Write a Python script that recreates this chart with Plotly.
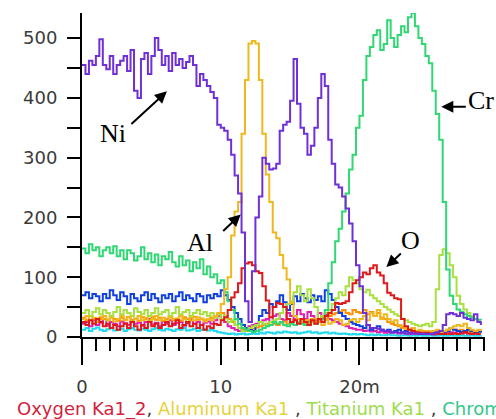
import plotly.graph_objects as go

STEP = 0.25  # sampling step along the scan (m)

ni = [455, 440, 462, 455, 470, 498, 455, 448, 470, 440, 455, 462, 470, 445, 480, 412,
      400, 465, 475, 440, 470, 500, 480, 455, 470, 445, 475, 455, 465, 450, 460, 470,
      455, 420, 440, 430, 420, 410, 400, 355, 350, 345, 330, 305, 270, 240, 175, 60,
      25, 110, 200, 235, 300, 290, 280, 282, 290, 345, 355, 360, 395, 465, 390, 350,
      340, 305, 320, 350, 400, 440, 420, 330, 290, 255, 250, 235, 215, 190, 160, 120,
      85, 40, 20, 15, 15, 14, 12, 10, 10, 8, 8, 7, 8, 6, 7, 6,
      6, 5, 6, 5, 5, 6, 8, 10, 20, 38, 40, 38, 35, 40, 32, 30,
      28, 38, 25, 20]

cr = [148, 140, 155, 145, 150, 135, 145, 150, 140, 152, 135, 145, 130, 145, 140, 128,
      135, 150, 130, 140, 125, 138, 120, 135, 130, 142, 125, 118, 135, 120, 128, 110,
      125, 115, 130, 105, 118, 100, 105, 90, 95, 75, 60, 45, 30, 22, 15, 12,
      10, 8, 10, 12, 15, 18, 20, 25, 22, 25, 20, 18, 22, 20, 25, 22,
      20, 25, 28, 22, 25, 30, 45, 90, 125, 160, 181, 210, 240, 280, 305, 350,
      370, 430, 470, 485, 505, 513, 480, 490, 530, 500, 485, 505, 520, 510, 535, 542,
      520, 500, 490, 470, 458, 412, 373, 330, 226, 113, 69, 55, 46, 42, 38, 35,
      32, 30, 29, 28]

al = [30, 35, 28, 32, 25, 30, 35, 28, 32, 26, 30, 35, 28, 33, 25, 30,
      35, 28, 32, 26, 30, 35, 28, 32, 26, 33, 30, 28, 35, 30, 25, 32,
      28, 33, 30, 26, 30, 28, 35, 40, 55, 80, 100, 170, 210, 226, 340, 430,
      491, 495, 491, 430, 340, 272, 226, 175, 165, 137, 115, 96, 57, 35, 30, 25,
      28, 22, 25, 30, 25, 20, 28, 22, 25, 30, 28, 20, 22, 28, 30, 25,
      30, 35, 28, 40, 35, 45, 30, 38, 30, 25, 28, 20, 18, 15, 12, 15,
      10, 12, 8, 10, 8, 10, 12, 8, 10, 12, 15, 18, 20, 18, 22, 15,
      12, 10, 12, 10]

oxy = [25, 20, 28, 22, 30, 25, 18, 22, 15, 20, 12, 18, 22, 15, 25, 18,
       12, 20, 15, 25, 18, 22, 15, 20, 25, 18, 22, 28, 15, 20, 25, 18,
       22, 15, 20, 12, 18, 15, 22, 20, 28, 33, 45, 66, 75, 90, 115, 123,
       125, 120, 110, 107, 85, 61, 33, 50, 57, 55, 50, 30, 25, 28, 22, 30,
       25, 20, 28, 22, 30, 25, 35, 40, 45, 57, 55, 57, 60, 75, 90, 95,
       100, 108, 105, 115, 120, 108, 103, 90, 74, 70, 65, 63, 30, 18, 12, 10,
       8, 7, 6, 7, 6, 5, 6, 5, 5, 6, 5, 6, 5, 6, 8, 6,
       5, 6, 5, 5]

ti = [40, 45, 35, 42, 48, 38, 45, 40, 35, 42, 50, 38, 45, 40, 35, 48,
      42, 38, 45, 35, 40, 48, 38, 42, 45, 35, 40, 50, 38, 42, 45, 35,
      40, 45, 38, 42, 35, 40, 32, 38, 30, 35, 25, 28, 20, 15, 10, 12,
      15, 18, 20, 25, 22, 20, 25, 28, 30, 40, 50, 55, 60, 75, 85, 70,
      60, 80, 65, 50, 30, 35, 40, 45, 55, 65, 75, 70, 85, 100, 95, 90,
      80, 75, 79, 70, 65, 60, 55, 50, 46, 42, 38, 35, 30, 28, 25, 22,
      20, 18, 20, 22, 18, 25, 80, 137, 147, 140, 120, 100, 69, 55, 46, 40,
      35, 30, 28, 28]

blue = [70, 75, 65, 72, 68, 60, 72, 65, 78, 70, 62, 75, 68, 55, 72, 65,
        60, 70, 75, 62, 72, 65, 58, 70, 65, 72, 60, 68, 75, 62, 70, 65,
        60, 72, 68, 58, 70, 65, 72, 68, 78, 70, 62, 50, 40, 30, 20, 15,
        12, 10, 20, 35, 45, 40, 55, 50, 60, 70, 58, 45, 55, 68, 60, 72,
        65, 58, 70, 62, 68, 60, 78, 72, 62, 50, 40, 35, 30, 25, 22, 20,
        18, 15, 20, 12, 15, 18, 12, 10, 12, 8, 10, 12, 8, 10, 7, 9,
        8, 6, 8, 7, 6, 8, 7, 6, 8, 10, 15, 12, 10, 8, 10, 12,
        10, 8, 9, 10]

cyan = [12, 15, 10, 14, 16, 12, 10, 13, 15, 11, 12, 14, 10, 13, 15, 12,
        11, 14, 12, 10, 13, 15, 12, 11, 14, 12, 10, 13, 12, 15, 11, 12,
        14, 10, 12, 13, 11, 12, 10, 8, 7, 6, 5, 6, 4, 5, 6, 4,
        5, 6, 5, 7, 6, 8, 7, 6, 8, 7, 9, 8, 7, 8, 6, 7,
        8, 9, 7, 8, 6, 7, 8, 6, 7, 6, 5, 6, 5, 4, 5, 4,
        5, 4, 3, 4, 3, 4, 3, 3, 4, 3, 3, 2, 3, 3, 2, 3,
        2, 3, 2, 2, 3, 2, 2, 3, 2, 2, 3, 2, 2, 3, 2, 2,
        3, 2, 2, 3]

magenta = [22, 25, 18, 28, 20, 24, 30, 19, 25, 22, 18, 26, 23, 20, 28, 22,
           24, 19, 25, 30, 21, 24, 18, 26, 22, 28, 20, 24, 25, 19, 23, 30,
           22, 25, 20, 24, 26, 22, 28, 35, 30, 25, 18, 15, 12, 10, 12, 15,
           18, 20, 22, 25, 28, 30, 25, 35, 38, 30, 28, 40, 35, 30, 45, 38,
           30, 42, 35, 28, 40, 32, 38, 30, 28, 25, 22, 20, 18, 15, 14, 12,
           12, 10, 11, 9, 10, 8, 9, 7, 8, 7, 8, 6, 7, 6, 5, 6,
           5, 6, 5, 6, 5, 4, 5, 6, 5, 6, 8, 7, 6, 8, 7, 6,
           7, 6, 8, 7]

orange = [32, 28, 35, 30, 26, 33, 30, 28, 35, 30, 27, 32, 29, 34, 28, 31,
          27, 33, 30, 28, 34, 29, 32, 27, 30, 35, 28, 31, 27, 33, 30, 28,
          34, 29, 31, 28, 30, 32, 35, 38, 40, 35, 30, 25, 20, 15, 12, 10,
          12, 14, 16, 18, 20, 22, 25, 22, 20, 24, 26, 22, 25, 28, 30, 26,
          24, 28, 30, 25, 28, 32, 30, 35, 38, 40, 42, 45, 40, 38, 45, 42,
          40, 45, 38, 42, 35, 40, 32, 30, 25, 22, 20, 18, 15, 14, 12, 11,
          10, 9, 10, 8, 9, 8, 10, 9, 10, 12, 14, 12, 11, 12, 10, 9,
          8, 9, 8, 8]

x_tick_vals = [0, 10, 20]
x_tick_text = ["0", "10", "20m"]
y_tick_vals = [0, 100, 200, 300, 400, 500]
legend_items = [("Oxygen Ka1_2", "#d21f3c"), ("Aluminum Ka1 ", "#e6d23c"),
                ("Titanium Ka1 ", "#a0dc50"), ("Chromium Ka1", "#32c88c")]

series = [
    ("Cyan", cyan, "#20d8f0"),
    ("Magenta", magenta, "#e020b0"),
    ("Orange", orange, "#ff9000"),
    ("Blue", blue, "#1040e0"),
    ("Titanium", ti, "#a8e040"),
    ("Chromium", cr, "#2fd873"),
    ("Aluminum", al, "#f0b820"),
    ("Oxygen", oxy, "#e01818"),
    ("Nickel", ni, "#7030d8"),
]

W, H = 496, 419
ML, MR, MT, MB = 82, 11, 13, 82
plot_w = W - ML - MR
plot_h = H - MT - MB

fig = go.Figure()
for name, vals, color in series:
    xs = [i * STEP for i in range(len(vals))]
    fig.add_trace(go.Scatter(x=xs, y=vals, mode="lines", name=name,
                             line=dict(color=color, width=2, shape="hv"),
                             showlegend=False))

ann_font = dict(family="Liberation Serif", size=26, color="black")
arrow_kw = dict(showarrow=True, arrowhead=2, arrowsize=1.2, arrowwidth=2,
                arrowcolor="black", text="", xref="x", yref="y")
annotations = [
    dict(x=6.12, y=411, ax=-37, ay=34, **arrow_kw),
    dict(x=11.44, y=205, ax=-19, ay=18, **arrow_kw),
    dict(x=25.9, y=385, ax=26, ay=0, **arrow_kw),
    dict(x=21.94, y=117, ax=16, ay=-15, **arrow_kw),
    dict(x=2.23, y=341, text="Ni", showarrow=False, font=ann_font, xref="x", yref="y"),
    dict(x=8.49, y=158, text="Al", showarrow=False, font=ann_font, xref="x", yref="y"),
    dict(x=28.78, y=396, text="Cr", showarrow=False, font=ann_font, xref="x", yref="y"),
    dict(x=23.67, y=162, text="O", showarrow=False, font=ann_font, xref="x", yref="y"),
]
legend_text = ", ".join(f"<span style='color:{c}'>{t}</span>" for t, c in legend_items)
# bottom caption: left edge at 15 px, vertical centre at 409 px from top
annotations.append(dict(x=(15 - ML) / plot_w, y=((H - MB) - 409) / plot_h,
                        xref="paper", yref="paper", text=legend_text,
                        showarrow=False, xanchor="left", yanchor="middle",
                        font=dict(family="DejaVu Sans", size=18)))

fig.update_layout(
    width=W, height=H,
    margin=dict(l=ML, r=MR, t=MT, b=MB),
    plot_bgcolor="white", paper_bgcolor="white",
    annotations=annotations,
    font=dict(family="DejaVu Sans", size=18, color="#3a3a3a"),
)

fig.update_xaxes(range=[0, 29.05], tickmode="array", tickvals=x_tick_vals, ticktext=x_tick_text,
                 ticks="outside", ticklen=26, tickwidth=2, tickcolor="black",
                 showline=True, linecolor="black", linewidth=2, showgrid=False, zeroline=False,
                 ticklabelstandoff=6,
                 minor=dict(tickmode="array", tickvals=list(range(0, 30)), ticks="outside",
                            ticklen=12, tickwidth=2, tickcolor="black", showgrid=False))
fig.update_yaxes(range=[0, 542], tickmode="array", tickvals=y_tick_vals,
                 ticks="outside", ticklen=13, tickwidth=2, tickcolor="black",
                 showline=True, linecolor="black", linewidth=2, showgrid=False, zeroline=False,
                 ticklabelstandoff=6,
                 minor=dict(tickmode="array", tickvals=[50, 150, 250, 350, 450], ticks="outside",
                            ticklen=13, tickwidth=2, tickcolor="black", showgrid=False))

fig.write_html("out.html")
